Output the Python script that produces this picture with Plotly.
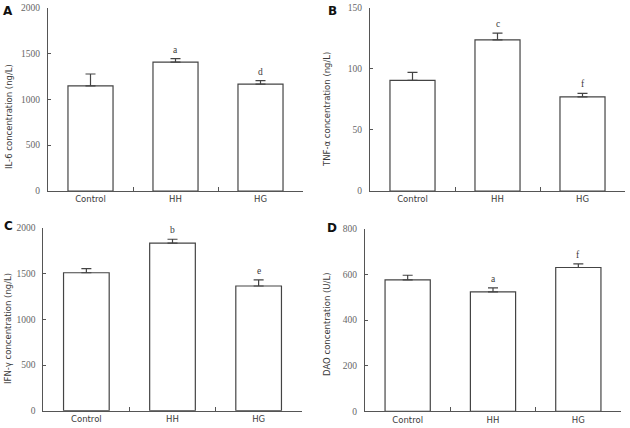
import plotly.graph_objects as go

categories = ["Control", "HH", "HG"]

il6_values = [1145, 1405, 1165]
il6_errors = [130, 38, 37]
il6_letters = ["", "a", "d"]

tnf_values = [90.5, 123.5, 77]
tnf_errors = [6.5, 5.5, 2.8]
tnf_letters = ["", "c", "f"]

ifn_values = [1510, 1835, 1365]
ifn_errors = [45, 42, 68]
ifn_letters = ["", "b", "e"]

dao_values = [576, 523, 630]
dao_errors = [20, 18, 16]
dao_letters = ["", "a", "f"]

panels = [
    dict(label="A", title="IL-6 concentration (ng/L)", values=il6_values, errors=il6_errors,
         letters=il6_letters, ymax=2000, dtick=500,
         xdom=(48, 303), ydom=(7.5, 191), title_pos=(9, 117), label_pos=(8, 11)),
    dict(label="B", title="TNF-α concentration (ng/L)", values=tnf_values, errors=tnf_errors,
         letters=tnf_letters, ymax=150, dtick=50,
         xdom=(370, 625), ydom=(7.5, 191), title_pos=(327, 110), label_pos=(332, 11)),
    dict(label="C", title="IFN-γ concentration (ng/L)", values=ifn_values, errors=ifn_errors,
         letters=ifn_letters, ymax=2000, dtick=500,
         xdom=(43.3, 301.7), ydom=(228, 410.7), title_pos=(8, 329), label_pos=(8, 226)),
    dict(label="D", title="DAO concentration (U/L)", values=dao_values, errors=dao_errors,
         letters=dao_letters, ymax=800, dtick=200,
         xdom=(365, 621), ydom=(228.7, 411.3), title_pos=(327, 325), label_pos=(332, 228)),
]

W, H = 630, 428
AXIS = "#555555"
TEXT = "#3a3a3a"
TICK = "#666666"

fig = go.Figure()
annotations = []
layout = dict(
    width=W, height=H, margin=dict(l=0, r=0, t=0, b=0, pad=0, autoexpand=False),
    paper_bgcolor="white", plot_bgcolor="white", showlegend=False,
    bargap=0.47,
)

for i, p in enumerate(panels, start=1):
    xa = "x" if i == 1 else f"x{i}"
    ya = "y" if i == 1 else f"y{i}"
    fig.add_trace(go.Bar(
        x=categories, y=p["values"], xaxis=xa, yaxis=ya,
        width=0.53,
        marker=dict(color="white", line=dict(color="#444444", width=1.2)),
        error_y=dict(type="data", symmetric=False, array=p["errors"],
                     arrayminus=[0] * len(p["errors"]),
                     color="#444444", thickness=1.2, width=5),
        hoverinfo="skip",
    ))
    xd = [p["xdom"][0] / W, p["xdom"][1] / W]
    yd = [1 - p["ydom"][1] / H, 1 - p["ydom"][0] / H]
    layout["xaxis" if i == 1 else f"xaxis{i}"] = dict(
        domain=xd, anchor=ya, type="category", range=[-0.5, 2.5],
        showline=True, linecolor=AXIS, linewidth=1, automargin=False,
        ticks="inside", ticklen=4, tickcolor=AXIS, tickson="boundaries",
        showgrid=False, zeroline=False,
        tickfont=dict(family="DejaVu Sans", size=8.5, color=TEXT),
    )
    layout["yaxis" if i == 1 else f"yaxis{i}"] = dict(
        domain=yd, anchor=xa, range=[0, p["ymax"]], dtick=p["dtick"], tick0=0,
        showline=True, linecolor=AXIS, linewidth=1, automargin=False,
        ticks="inside", ticklen=3, tickcolor=AXIS,
        showgrid=False, zeroline=False,
        ticklabelstandoff=5,
        tickfont=dict(family="Liberation Serif", size=9.5, color=TICK),
    )
    # y-axis title
    annotations.append(dict(
        text=p["title"], xref="paper", yref="paper",
        x=p["title_pos"][0] / W, y=1 - p["title_pos"][1] / H,
        textangle=-90, showarrow=False, xanchor="center", yanchor="middle",
        font=dict(family="DejaVu Sans", size=8.5, color=TEXT),
    ))
    # panel label
    annotations.append(dict(
        text=f"<b>{p['label']}</b>", xref="paper", yref="paper",
        x=p["label_pos"][0] / W, y=1 - p["label_pos"][1] / H,
        showarrow=False, xanchor="center", yanchor="middle",
        font=dict(family="DejaVu Sans", size=12, color="#111111"),
    ))
    # significance letters
    for c, v, e, let in zip(categories, p["values"], p["errors"], p["letters"]):
        if let:
            annotations.append(dict(
                text=let, xref=xa, yref=ya, x=c, y=v + e,
                showarrow=False, xanchor="center", yanchor="bottom", yshift=2,
                font=dict(family="Liberation Serif", size=9.5, color=TEXT),
            ))

layout["annotations"] = annotations
fig.update_layout(**layout)
fig.write_html(
    "out.html",
    config={"displayModeBar": False, "staticPlot": True},
    post_script="document.body.style.margin='0px';document.body.style.padding='0px';",
)
